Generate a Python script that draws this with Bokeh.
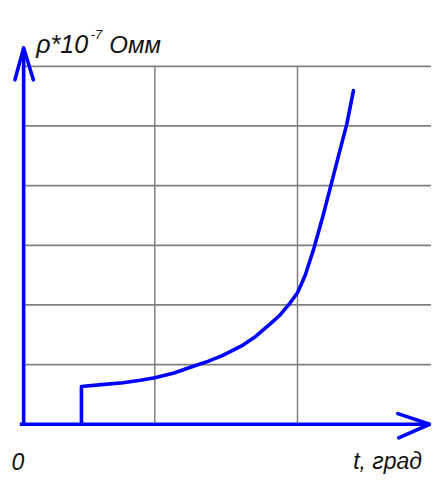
from bokeh.plotting import figure
from bokeh.models import Range1d
from bokeh.core.properties import value
from bokeh.embed import file_html
from bokeh.resources import INLINE

# Data (grid units: x measured from the y-axis, y measured from the x-axis)
t_vals = [0.405, 0.405, 0.547, 0.696, 0.818, 0.919, 1.054, 1.189, 1.291, 1.392, 1.527,
          1.628, 1.730, 1.797, 1.865, 1.919, 1.973, 2.034, 2.095, 2.155, 2.209, 2.264, 2.311]
rho_vals = [0.0, 0.632, 0.665, 0.697, 0.738, 0.778, 0.859, 0.973, 1.054, 1.151, 1.313,
            1.476, 1.686, 1.832, 2.027, 2.205, 2.497, 2.951, 3.470, 4.021, 4.524, 5.027, 5.594]
grid_x = [0.919, 1.919]
grid_y = [1, 2, 3, 4, 5, 6]

X0, X1 = -0.1622, 2.858
Y0, Y1 = -0.8757, 7.103

p = figure(width=431, height=476, output_backend="svg", toolbar_location=None,
           x_range=Range1d(X0, X1), y_range=Range1d(Y0, Y1),
           x_axis_type=None, y_axis_type=None, min_border=0)
p.grid.visible = False
p.outline_line_color = None

GRID = "#808080"
for gy in grid_y:
    p.line([0, X1], [gy, gy], line_color=GRID, line_width=1.8)
for gx in grid_x:
    p.line([gx, gx], [0, max(grid_y)], line_color=GRID, line_width=1.5)

BLUE = "#0000ff"
# axes with open arrow heads
p.line([0, 0], [-0.03, 6.308], line_color=BLUE, line_width=3.6)
p.line([-0.061, 0, 0.068], [5.773, 6.308, 5.773], line_color=BLUE, line_width=3.6,
       line_join="round", line_cap="round")
p.line([-0.027, 2.845], [0, 0], line_color=BLUE, line_width=3.6)
p.line([2.622, 2.845, 2.628], [0.178, 0, -0.227], line_color=BLUE, line_width=3.6,
       line_join="round", line_cap="round")

# curve
p.line(t_vals, rho_vals, line_color=BLUE, line_width=3.6, line_join="round", line_cap="round")

FONT = value("Liberation Sans")
INK = "#111111"
p.text(x=[0.088], y=[6.373], text=["ρ*10"], text_font=FONT, text_font_style="italic",
       text_font_size="25px", text_color=INK, text_baseline="alphabetic")
p.text(x=[0.47], y=[6.53], text=["-7"], text_font=FONT, text_font_style="italic",
       text_font_size="13px", text_color=INK, text_baseline="alphabetic")
p.text(x=[0.60], y=[6.373], text=["Омм"], text_font=FONT, text_font_style="italic",
       text_font_size="24px", text_color=INK, text_baseline="alphabetic")
p.text(x=[-0.085], y=[-0.62], text=["0"], text_font=FONT, text_font_style="italic",
       text_font_size="23px", text_color=INK, text_baseline="alphabetic")
p.text(x=[2.791], y=[-0.62], text=["t, град"], text_font=FONT, text_font_style="italic",
       text_font_size="23px", text_color=INK, text_baseline="alphabetic", text_align="right")

open("out.html", "w").write(file_html(p, INLINE))
